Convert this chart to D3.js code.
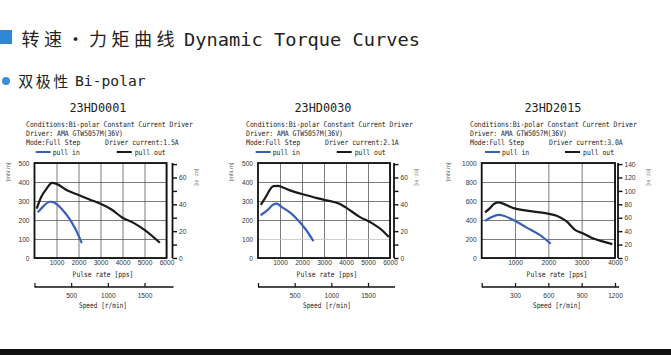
<!DOCTYPE html>
<html>
<head>
<meta charset="utf-8">
<script src="https://cdn.jsdelivr.net/npm/d3@7"></script>
<style>
  body { margin: 0; background: #fff; }
  svg { display: block; }
</style>
</head>
<body>
<svg id="chart" width="671" height="355"></svg>
<script>
// ---- data ----
const models = ["23HD0001", "23HD0030", "23HD2015"];
const driverCurrents = ["1.5A", "2.1A", "3.0A"];
const pulseTicks = [
  [1000, 2000, 3000, 4000, 5000, 6000],
  [1000, 2000, 3000, 4000, 5000, 6000],
  [1000, 2000, 3000, 4000]
];
const speedTicks = [
  [500, 1000, 1500],
  [500, 1000, 1500],
  [300, 600, 900, 1200]
];
const torqueTicks = [
  [0, 100, 200, 300, 400, 500],
  [0, 100, 200, 300, 400, 500],
  [0, 200, 400, 600, 800, 1000]
];
const ozTicks = [
  [0, 10, 20, 30, 40, 50, 60, 70],
  [0, 10, 20, 30, 40, 50, 60, 70],
  [0, 20, 40, 60, 80, 100, 120, 140]
];

// [pulse rate pps, torque mN.m]
const pullOut0001 = [[100, 260], [300, 320], [550, 365], [800, 395], [1000, 390], [1500, 355], [2000, 332], [2500, 308], [3000, 285], [3500, 255], [4000, 212], [4500, 185], [5000, 148], [5700, 80]];
const pullIn0001 = [[150, 240], [400, 272], [700, 296], [850, 294], [1050, 280], [1300, 250], [1600, 205], [1850, 155], [2150, 78]];
const pullOut0030 = [[130, 280], [320, 315], [700, 378], [920, 380], [1080, 374], [1450, 356], [2200, 330], [3000, 306], [3700, 285], [4000, 265], [4600, 218], [5200, 182], [5600, 150], [5950, 110]];
const pullIn0030 = [[120, 225], [470, 256], [700, 282], [850, 286], [1080, 268], [1450, 240], [1830, 198], [2200, 146], [2520, 88]];
const pullOut2015 = [[100, 480], [250, 525], [350, 565], [500, 585], [600, 578], [950, 525], [1350, 498], [1950, 470], [2250, 445], [2550, 385], [2800, 295], [3050, 258], [3350, 205], [3650, 172], [3920, 145]];
const pullIn2015 = [[100, 390], [300, 432], [500, 455], [600, 450], [950, 400], [1350, 320], [1750, 240], [2070, 150]];

const pullInSeries = [pullIn0001, pullIn0030, pullIn2015];
const pullOutSeries = [pullOut0001, pullOut0030, pullOut2015];

// ---- layout ----
const charts = [
  { left: 34.5, right: 166.5, textX: 26, titleX: 98, axisX: 172.5, ozX: 195, mnX: 10, legIn: 35.7, legOut: 116.7, labelX: 103, pulseMax: 6000, torqueMax: 500 },
  { left: 258, right: 390, textX: 246, titleX: 323, axisX: 394, ozX: 415, mnX: 233, legIn: 255.7, legOut: 336.7, labelX: 327, pulseMax: 6000, torqueMax: 500, lightGrid: 100 },
  { left: 481.7, right: 615, textX: 470, titleX: 553, axisX: 618, ozX: 647, mnX: 450, legIn: 485, legOut: 565, labelX: 557, pulseMax: 4000, torqueMax: 1000 }
];
const plotTop = 163, plotBottom = 258, speedY = 287;
const blue = "#3a5fb8", dark = "#1a1a1a";
const mono = "'DejaVu Sans Mono', monospace";
const narrow = "'Liberation Sans', Arial, sans-serif";
const charW = 3.88;
const fmt = d3.format("d");

const svg = d3.select("#chart");

// condensed label helper: monospace squeezed to the reference width
function label(g, x, y, str, opts = {}) {
  return g.append("text")
    .attr("x", x).attr("y", y)
    .attr("font-family", mono)
    .attr("font-size", opts.size || 7.6)
    .attr("fill", opts.fill || "#222")
    .attr("text-anchor", opts.anchor || "start")
    .attr("textLength", str.length * (opts.w || charW))
    .attr("lengthAdjust", "spacingAndGlyphs")
    .text(str);
}

// ---- header ----
svg.append("rect").attr("x", 0).attr("y", 30).attr("width", 12).attr("height", 14).attr("fill", "#2e88d4");
svg.append("text").attr("x", 21.5).attr("y", 46)
  .attr("font-family", "'Noto Sans CJK SC', sans-serif").attr("font-size", 18).attr("fill", "#222")
  .attr("textLength", 153).attr("lengthAdjust", "spacing").text("转速・力矩曲线");
svg.append("text").attr("x", 184).attr("y", 46)
  .attr("font-family", mono).attr("font-size", 18).attr("fill", "#222")
  .attr("textLength", 236).attr("lengthAdjust", "spacingAndGlyphs").text("Dynamic Torque Curves");

svg.append("circle").attr("cx", 6).attr("cy", 81).attr("r", 4).attr("fill", "#3a8fd8");
svg.append("text").attr("x", 18.3).attr("y", 86.5)
  .attr("font-family", "'Noto Sans CJK SC', sans-serif").attr("font-size", 15).attr("fill", "#222")
  .attr("textLength", 50).attr("lengthAdjust", "spacing").text("双极性");
svg.append("text").attr("x", 75).attr("y", 86)
  .attr("font-family", mono).attr("font-size", 14.5).attr("fill", "#222")
  .attr("textLength", 70.7).attr("lengthAdjust", "spacingAndGlyphs").text("Bi-polar");

// ---- charts ----
charts.forEach((c, i) => {
  const g = svg.append("g");

  const x = d3.scaleLinear().domain([0, c.pulseMax]).range([c.left, c.right]);
  const y = d3.scaleLinear().domain([0, c.torqueMax]).range([plotBottom, plotTop]);
  const yOz = d3.scaleLinear().domain([0, c.torqueMax / 7.0616]).range([plotBottom, plotTop]);
  const speed = d3.scaleLinear().domain([0, c.pulseMax * 0.3]).range([c.left, c.right]);

  // title + conditions
  g.append("text").attr("x", c.titleX).attr("y", 112)
    .attr("font-family", mono).attr("font-size", 11.5).attr("fill", "#222")
    .attr("text-anchor", "middle")
    .attr("textLength", 57).attr("lengthAdjust", "spacingAndGlyphs")
    .text(models[i]);
  label(g, c.textX, 127, "Conditions:Bi-polar Constant Current Driver");
  label(g, c.textX, 136, "Driver: AMA GTW5057M(36V)");
  label(g, c.textX, 145, "Mode:Full Step");
  label(g, c.textX + 79, 145, "Driver current:" + driverCurrents[i]);

  // legend
  g.append("line").attr("x1", c.legIn).attr("x2", c.legIn + 15).attr("y1", 152).attr("y2", 152)
    .attr("stroke", blue).attr("stroke-width", 2);
  label(g, c.legIn + 17, 155, "pull in");
  g.append("line").attr("x1", c.legOut).attr("x2", c.legOut + 15).attr("y1", 152).attr("y2", 152)
    .attr("stroke", dark).attr("stroke-width", 2);
  label(g, c.legOut + 18, 155, "pull out");

  // grid
  const gx = g.append("g").attr("transform", `translate(0,${plotBottom})`)
    .call(d3.axisBottom(x).tickValues(pulseTicks[i]).tickSize(-(plotBottom - plotTop)).tickFormat(""));
  gx.select(".domain").remove();
  gx.selectAll("line").attr("stroke", "#5a5a5a").attr("stroke-width", 0.8);

  const gy = g.append("g").attr("transform", `translate(${c.left},0)`)
    .call(d3.axisLeft(y).tickValues(torqueTicks[i]).tickSize(-(c.right - c.left)).tickFormat(""));
  gy.select(".domain").remove();
  gy.selectAll("line").attr("stroke", d => d === c.lightGrid ? "#c4c4c4" : "#5a5a5a").attr("stroke-width", 0.8);

  // frame
  g.append("rect").attr("x", c.left).attr("y", plotTop)
    .attr("width", c.right - c.left).attr("height", plotBottom - plotTop)
    .attr("fill", "none").attr("stroke", "#111").attr("stroke-width", 1.8);

  // tick labels
  const ly = g.append("g").attr("transform", `translate(${c.left},0)`)
    .call(d3.axisLeft(y).tickValues(torqueTicks[i]).tickSize(0).tickPadding(5).tickFormat(fmt));
  ly.select(".domain").remove();
  ly.selectAll("text").attr("font-family", narrow).attr("font-size", 6.6).attr("fill", "#333");

  const lx = g.append("g").attr("transform", `translate(0,${plotBottom})`)
    .call(d3.axisBottom(x).tickValues(pulseTicks[i]).tickSize(0).tickPadding(2).tickFormat(fmt));
  lx.select(".domain").remove();
  lx.selectAll("text").attr("font-family", narrow).attr("font-size", 6.6).attr("fill", "#333");

  // right oz.in axis
  const ro = g.append("g").attr("transform", `translate(${c.axisX},0)`)
    .call(d3.axisRight(yOz).tickValues(ozTicks[i]).tickSize(4.5).tickSizeOuter(0).tickPadding(2)
      .tickFormat(d => d % 20 === 0 ? fmt(d) : ""));
  ro.select(".domain").attr("d", `M0,${plotTop}V${plotBottom}`).attr("stroke", "#111").attr("stroke-width", 1.8);
  ro.selectAll(".tick line").attr("stroke", "#111").attr("stroke-width", 1.4);
  ro.selectAll("text").attr("font-family", narrow).attr("font-size", 6.6).attr("fill", "#333");

  // unit labels
  g.append("text").attr("transform", `translate(${c.mnX},172) rotate(-90)`)
    .attr("font-family", narrow).attr("font-size", 5.8).attr("fill", "#555")
    .attr("text-anchor", "middle").text("[mN.m]");
  g.append("text").attr("transform", `translate(${c.ozX},177) rotate(90)`)
    .attr("font-family", narrow).attr("font-size", 5.8).attr("fill", "#777")
    .attr("text-anchor", "middle").text("[oz. in]");

  label(g, c.labelX, 276.5, "Pulse rate [pps]", { anchor: "middle", w: 3.8 });

  // speed axis
  g.append("line").attr("x1", c.left).attr("x2", c.axisX + 1).attr("y1", speedY).attr("y2", speedY)
    .attr("stroke", "#111").attr("stroke-width", 1.3);
  const sp = g.append("g").attr("transform", `translate(0,${speedY})`)
    .call(d3.axisBottom(speed).tickValues([0].concat(speedTicks[i])).tickSizeInner(-4).tickSizeOuter(0).tickPadding(6)
      .tickFormat(d => d === 0 ? "" : fmt(d)));
  sp.select(".domain").remove();
  sp.selectAll(".tick line").attr("stroke", "#111").attr("stroke-width", 1.2);
  sp.selectAll("text").attr("font-family", narrow).attr("font-size", 6.6).attr("fill", "#333");
  label(g, c.labelX, 308, "Speed [r/min]", { anchor: "middle", w: 3.7 });

  // curves
  const line = d3.line().x(d => x(d[0])).y(d => y(d[1])).curve(d3.curveMonotoneX);
  g.append("path").datum(pullOutSeries[i]).attr("d", line)
    .attr("fill", "none").attr("stroke", dark).attr("stroke-width", 2.2).attr("stroke-linejoin", "round");
  g.append("path").datum(pullInSeries[i]).attr("d", line)
    .attr("fill", "none").attr("stroke", blue).attr("stroke-width", 2.2).attr("stroke-linejoin", "round");
});

// bottom bar
svg.append("rect").attr("x", 0).attr("y", 349).attr("width", 671).attr("height", 6).attr("fill", "#111");
</script>
</body>
</html>
